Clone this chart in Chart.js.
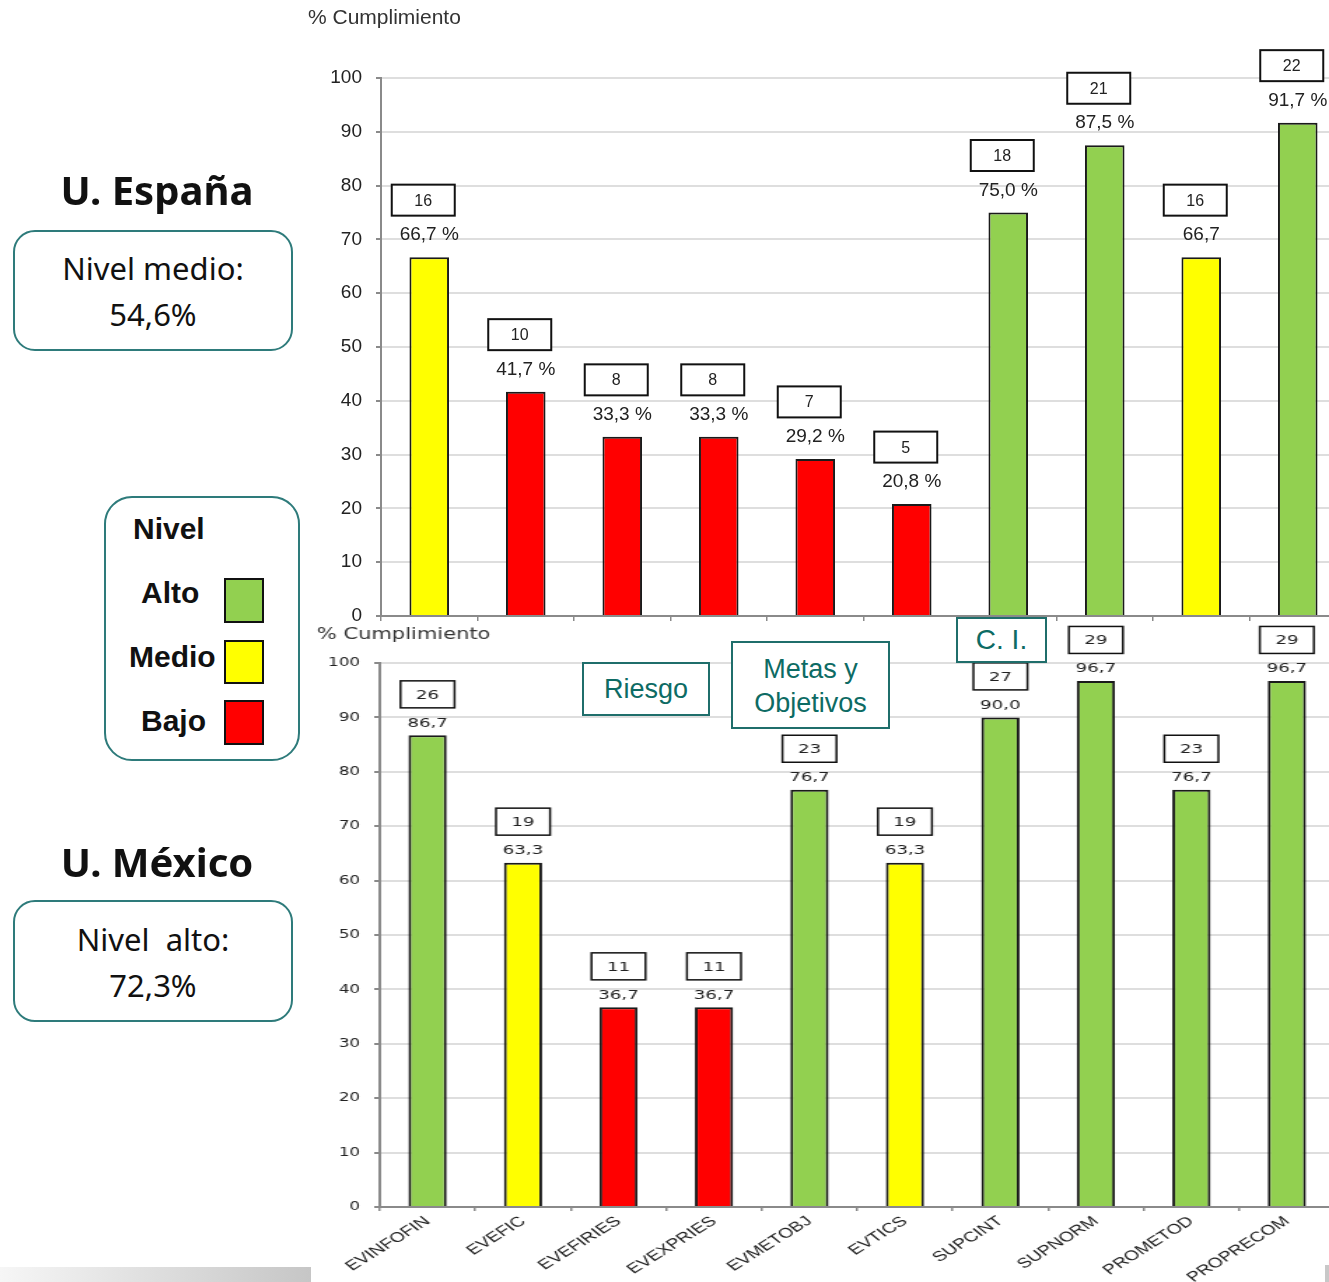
<!DOCTYPE html>
<html lang="es">
<head>
<meta charset="utf-8">
<title>% Cumplimiento por unidad</title>
<script src="https://cdn.jsdelivr.net/npm/chart.js@4/dist/chart.umd.min.js"></script>
<style>
  html, body { margin: 0; padding: 0; width: 1329px; height: 1282px; overflow: hidden; background: #fff; }
  body { position: relative; font-family: "Noto Sans", sans-serif; color: #111; }
  .abs { position: absolute; }
  canvas { display: block; }
  #wrapTop { left: 300px; top: 0; width: 1060px; height: 646px; }
  #wrapBottom { left: 300px; top: 620px; width: 745px; height: 662px; transform: scaleX(1.4); transform-origin: 0 0; }
  .unit { width: 300px; left: 7px; text-align: center; font-weight: bold; font-size: 40px; line-height: 50px; }
  .rbox { box-sizing: border-box; border: 2px solid #2e7b7b; border-radius: 22px; background: #fff;
          text-align: center; font-size: 31px; line-height: 46px; }
  .legend { box-sizing: border-box; left: 104px; top: 496px; width: 196px; height: 265px;
            border: 2px solid #2e7b7b; border-radius: 28px; background: #fff; }
  .lg { font-family: "Liberation Sans", Arial, sans-serif; font-weight: bold; font-size: 30px; line-height: 36px; }
  .sw { box-sizing: border-box; border: 2px solid #111; left: 224px; width: 40px; }
  .tag { box-sizing: border-box; border: 2px solid #1f6e6b; background: #fff; color: #0d6b64;
         font-family: "Liberation Sans", Arial, sans-serif; text-align: center; }
</style>
</head>
<body>
<div id="wrapTop" class="abs"><canvas id="chartEspana" width="1060" height="646"></canvas></div>
<div id="wrapBottom" class="abs"><canvas id="chartMexico" width="745" height="662"></canvas></div>

<!-- Unidad España -->
<div class="abs unit" style="top:165px;">U. España</div>
<div class="abs rbox" style="left:13px;top:230px;width:280px;height:121px;padding-top:13px;">Nivel medio:<br>54,6%</div>

<!-- Leyenda de niveles -->
<div class="abs legend"></div>
<div class="abs lg" style="left:133px;top:511px;">Nivel</div>
<div class="abs lg" style="left:141px;top:575px;">Alto</div>
<div class="abs lg" style="left:129px;top:639px;">Medio</div>
<div class="abs lg" style="left:141px;top:703px;">Bajo</div>
<div class="abs sw" style="top:578px;height:45px;background:#92d050;"></div>
<div class="abs sw" style="top:640px;height:44px;background:#ffff00;"></div>
<div class="abs sw" style="top:700px;height:45px;background:#ff0000;"></div>

<!-- Unidad México -->
<div class="abs unit" style="top:837px;">U. México</div>
<div class="abs rbox" style="left:13px;top:900px;width:280px;height:122px;padding-top:14px;">Nivel&nbsp; alto:<br>72,3%</div>

<!-- Agrupaciones de indicadores -->
<div class="abs tag" style="left:582px;top:662px;width:128px;height:54px;font-size:27px;line-height:50px;">Riesgo</div>
<div class="abs tag" style="left:731px;top:641px;width:159px;height:88px;font-size:27px;line-height:34px;padding-top:9px;">Metas y<br>Objetivos</div>
<div class="abs tag" style="left:956px;top:617px;width:91px;height:46px;font-size:28px;line-height:42px;">C. I.</div>

<div class="abs" style="left:0;top:1267px;width:311px;height:15px;background:linear-gradient(to right,#f6f6f6,#c6c6c6);"></div>
<div class="abs" style="left:1325px;top:1265px;width:4px;height:17px;background:#c8c8c8;"></div>

<script>
// Indicadores evaluados
const categories = ['EVINFOFIN', 'EVEFIC', 'EVEFIRIES', 'EVEXPRIES', 'EVMETOBJ',
                    'EVTICS', 'SUPCINT', 'SUPNORM', 'PROMETOD', 'PROPRECOM'];

// U. España
const espanaValues = [66.7, 41.7, 33.3, 33.3, 29.2, 20.8, 75.0, 87.5, 66.7, 91.7];
const espanaCounts = [16, 10, 8, 8, 7, 5, 18, 21, 16, 22];
const espanaLabels = ['66,7 %', '41,7 %', '33,3 %', '33,3 %', '29,2 %', '20,8 %',
                      '75,0 %', '87,5 %', '66,7', '91,7 %'];
const espanaLevels = ['medio', 'bajo', 'bajo', 'bajo', 'bajo', 'bajo', 'alto', 'alto', 'medio', 'alto'];

// U. México
const mexicoValues = [86.7, 63.3, 36.7, 36.7, 76.7, 63.3, 90.0, 96.7, 76.7, 96.7];
const mexicoCounts = [26, 19, 11, 11, 23, 19, 27, 29, 23, 29];
const mexicoLabels = ['86,7', '63,3', '36,7', '36,7', '76,7', '63,3', '90,0', '96,7', '76,7', '96,7'];
const mexicoLevels = ['alto', 'medio', 'bajo', 'bajo', 'alto', 'medio', 'alto', 'alto', 'alto', 'alto'];

// Eje de porcentaje
const yTicks = [0, 10, 20, 30, 40, 50, 60, 70, 80, 90, 100];
const axisTitle = '% Cumplimiento';

const levelColors = { alto: '#92d050', medio: '#ffff00', bajo: '#ff0000' };

// Etiqueta de porcentaje sobre cada barra y recuadro con el número de respuestas
function valueBoxes(labels, counts, st) {
  return {
    id: 'valueBoxes',
    afterDatasetsDraw(chart) {
      const ctx = chart.ctx;
      chart.getDatasetMeta(0).data.forEach((bar, i) => {
        const x = bar.x, top = bar.y;
        ctx.save();
        ctx.textAlign = 'center';
        ctx.textBaseline = 'middle';
        ctx.fillStyle = st.color;
        ctx.font = st.labelFont;
        ctx.fillText(labels[i], x, top - st.labelGap);
        const cx = x + st.boxShift;
        const bx = cx - st.boxW / 2, by = top - st.boxGap - st.boxH / 2;
        ctx.fillStyle = '#fff';
        ctx.fillRect(bx, by, st.boxW, st.boxH);
        ctx.lineWidth = st.boxLine;
        ctx.strokeStyle = '#111';
        ctx.strokeRect(bx, by, st.boxW, st.boxH);
        ctx.fillStyle = st.color;
        ctx.font = st.countFont;
        ctx.fillText(String(counts[i]), cx, by + st.boxH / 2 + 1);
        ctx.restore();
      });
    }
  };
}

function cornerTitle(text, x, y, font, color) {
  return {
    id: 'cornerTitle',
    afterDraw(chart) {
      const ctx = chart.ctx;
      ctx.save();
      ctx.font = font;
      ctx.fillStyle = color;
      ctx.textAlign = 'left';
      ctx.textBaseline = 'middle';
      ctx.fillText(text, x, y);
      ctx.restore();
    }
  };
}

function makeChart(id, values, levels, labels, counts, cfg) {
  return new Chart(document.getElementById(id), {
    type: 'bar',
    data: {
      labels: categories,
      datasets: [{
        data: values,
        backgroundColor: levels.map(l => levelColors[l]),
        borderColor: '#1a1a1a',
        borderWidth: 2,
        borderSkipped: 'start',
        categoryPercentage: 1,
        barPercentage: cfg.barPct
      }]
    },
    options: {
      responsive: false,
      animation: false,
      devicePixelRatio: 1,
      layout: { padding: cfg.padding },
      plugins: { legend: { display: false }, tooltip: { enabled: false }, title: { display: false } },
      scales: {
        x: {
          grid: { display: true, drawOnChartArea: false, drawTicks: true, tickLength: cfg.tickLen, color: '#8a8a8a', lineWidth: 1.5 },
          border: { color: '#8a8a8a', width: 2 },
          ticks: cfg.xTicks,
          afterFit(s) { s.height = cfg.xHeight; }
        },
        y: {
          min: 0, max: 100,
          afterBuildTicks(s) { s.ticks = yTicks.map(v => ({ value: v })); },
          grid: { color: '#dedede', lineWidth: 2, tickLength: cfg.tickLen, tickColor: '#8a8a8a' },
          border: { color: '#8a8a8a', width: 2 },
          ticks: { font: cfg.yFont, color: '#222', padding: cfg.yPad },
          afterFit(s) { s.width = cfg.yWidth; }
        }
      }
    },
    plugins: [valueBoxes(labels, counts, cfg.boxes), cornerTitle(axisTitle, cfg.title.x, cfg.title.y, cfg.title.font, '#333')]
  });
}

makeChart('chartEspana', espanaValues, espanaLevels, espanaLabels, espanaCounts, {
  barPct: 0.41,
  padding: { top: 78, right: 14, left: 0, bottom: 0 },
  tickLen: 5,
  xTicks: { display: false },
  xHeight: 30,
  yFont: { family: 'Liberation Sans', size: 19 },
  yPad: 14,
  yWidth: 81,
  title: { x: 8, y: 18, font: '21px "Liberation Sans"' },
  boxes: { color: '#222', labelFont: '19px "Liberation Sans"', countFont: '16px "Liberation Sans"',
           labelGap: 22, boxGap: 57, boxW: 63, boxH: 31, boxShift: -6, boxLine: 2 }
});

makeChart('chartMexico', mexicoValues, mexicoLevels, mexicoLabels, mexicoCounts, {
  barPct: 0.40,
  padding: { top: 43, right: 6, left: 0, bottom: 0 },
  tickLen: 4,
  xTicks: { display: true, autoSkip: false, minRotation: 41, maxRotation: 41, padding: 2,
            font: { family: 'Liberation Sans', size: 14 }, color: '#222' },
  xHeight: 75,
  yFont: { family: 'DejaVu Sans', size: 12 },
  yPad: 10,
  yWidth: 57,
  title: { x: 12, y: 15, font: '15px "DejaVu Sans"' },
  boxes: { color: '#222', labelFont: '13px "DejaVu Sans"', countFont: '13px "DejaVu Sans"',
           labelGap: 12, boxGap: 41, boxW: 38.6, boxH: 27, boxShift: 0, boxLine: 1.5 }
});
</script>
</body>
</html>
